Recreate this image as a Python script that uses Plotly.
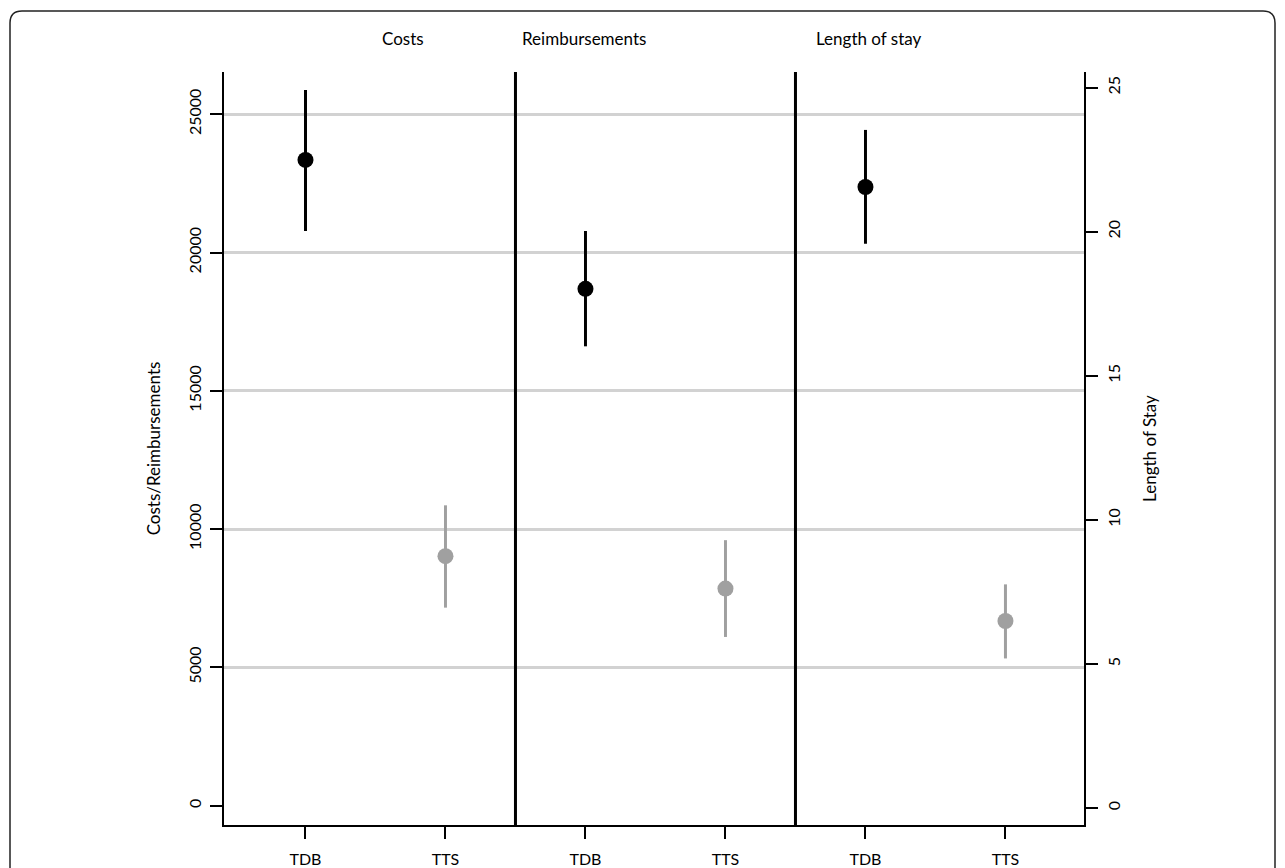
import plotly.graph_objects as go

# ---- data ----
panels = ["Costs", "Reimbursements", "Length of stay"]
groups = ["TDB", "TTS"]

cost_mean = [23350, 9020]
cost_low = [20780, 7160]
cost_high = [25880, 10860]

reimb_mean = [18690, 7850]
reimb_low = [16610, 6100]
reimb_high = [20780, 9600]

los_mean = [21.55, 6.49]
los_low = [19.58, 5.19]
los_high = [23.53, 7.76]

left_ticks = [0, 5000, 10000, 15000, 20000, 25000]
right_ticks = [0, 5, 10, 15, 20, 25]

# ---- styling ----
FONT = "Lato, 'Open Sans', sans-serif"
group_colors = {"TDB": "#000000", "TTS": "#a0a0a0"}

OFF = 8  # default page body margin
W, H = 1285 - OFF, 868 - OFF
ML, MT = 224 - OFF, 72 - OFF
PW, PH = 1084 - 224, 825 - 72
MR, MB = W - ML - PW, H - MT - PH

series = [
    (cost_mean, cost_low, cost_high, "y"),
    (reimb_mean, reimb_low, reimb_high, "y"),
    (los_mean, los_low, los_high, "y2"),
]

fig = go.Figure()
tickvals, ticktext = [], []
for p, (mean, low, high, yax) in enumerate(series):
    for g, grp in enumerate(groups):
        xpos = 2 * p + g + 1
        tickvals.append(xpos)
        ticktext.append(grp)
        fig.add_trace(go.Scatter(
            x=[xpos], y=[mean[g]], yaxis=yax, mode="markers",
            marker=dict(color=group_colors[grp], size=16, line=dict(width=0)),
            error_y=dict(type="data", symmetric=False,
                         array=[high[g] - mean[g]],
                         arrayminus=[mean[g] - low[g]],
                         color=group_colors[grp], thickness=3, width=0),
            showlegend=False, name=f"{panels[p]} {grp}", hoverinfo="skip",
        ))

# panel dividers between categories
shapes = []
for p in range(1, len(panels)):
    xd = 2 * p + 0.5
    shapes.append(dict(type="line", xref="x", yref="paper", x0=xd, x1=xd,
                       y0=0, y1=1, line=dict(color="black", width=3), layer="above"))

# outer rounded frame (page pixel coords -> paper coords)
def px2x(px):
    return (px - 224) / PW
def px2y(py):
    return (825 - py) / PH
x0, x1 = px2x(10), px2x(1275)
y0, y1 = px2y(885), px2y(11)
rx, ry = 12 / PW, 12 / PH
path = (f"M {x0+rx},{y1} L {x1-rx},{y1} Q {x1},{y1} {x1},{y1-ry} "
        f"L {x1},{y0+ry} Q {x1},{y0} {x1-rx},{y0} L {x0+rx},{y0} "
        f"Q {x0},{y0} {x0},{y0+ry} L {x0},{y1-ry} Q {x0},{y1} {x0+rx},{y1} Z")
shapes.append(dict(type="path", xref="paper", yref="paper", path=path,
                   line=dict(color="#222222", width=1.5), fillcolor="rgba(0,0,0,0)"))

title_x = [1.70, 2.99, 5.02]
annotations = [dict(text=t, x=xx, xref="x", y=px2y(38), yref="paper",
                    yanchor="middle", xanchor="center",
                    showarrow=False, font=dict(size=17, color="black", family=FONT))
               for t, xx in zip(panels, title_x)]

fig.update_layout(
    width=W, height=H,
    margin=dict(l=ML, r=MR, t=MT, b=MB, autoexpand=False),
    paper_bgcolor="white", plot_bgcolor="white",
    font=dict(family=FONT, color="black", size=16),
    shapes=shapes, annotations=annotations,
    xaxis=dict(range=[0.418, 6.561], tickvals=tickvals, ticktext=ticktext,
               automargin=False,
               showgrid=False, zeroline=False, showline=True, linecolor="black",
               linewidth=2, ticks="outside", ticklen=12, tickwidth=1.5,
               tickcolor="black", tickfont=dict(size=16), ticklabelstandoff=7),
    yaxis=dict(range=[-700, 26530], tickvals=left_ticks, automargin=False,
               ticktext=[str(v) for v in left_ticks], tickangle=-90,
               showgrid=True, gridcolor="#d2d2d2", gridwidth=2.5,
               zeroline=True, zerolinecolor="rgba(0,0,0,0)",
               showline=True, linecolor="black", linewidth=2,
               ticks="outside", ticklen=12, tickwidth=1.5, tickcolor="black",
               tickfont=dict(size=16), ticklabelstandoff=3,
               title=dict(text="Costs/Reimbursements", font=dict(size=17), standoff=20)),
    yaxis2=dict(range=[-0.59, 25.54], tickvals=right_ticks, automargin=False,
                ticktext=[str(v) for v in right_ticks], tickangle=-90,
                overlaying="y", side="right", showgrid=False, zeroline=False,
                showline=True, linecolor="black", linewidth=2,
                ticks="outside", ticklen=12, tickwidth=1.5, tickcolor="black",
                tickfont=dict(size=16), ticklabelstandoff=3,
                title=dict(text="Length of Stay", font=dict(size=17), standoff=22)),
)

fig.write_html("out.html")
